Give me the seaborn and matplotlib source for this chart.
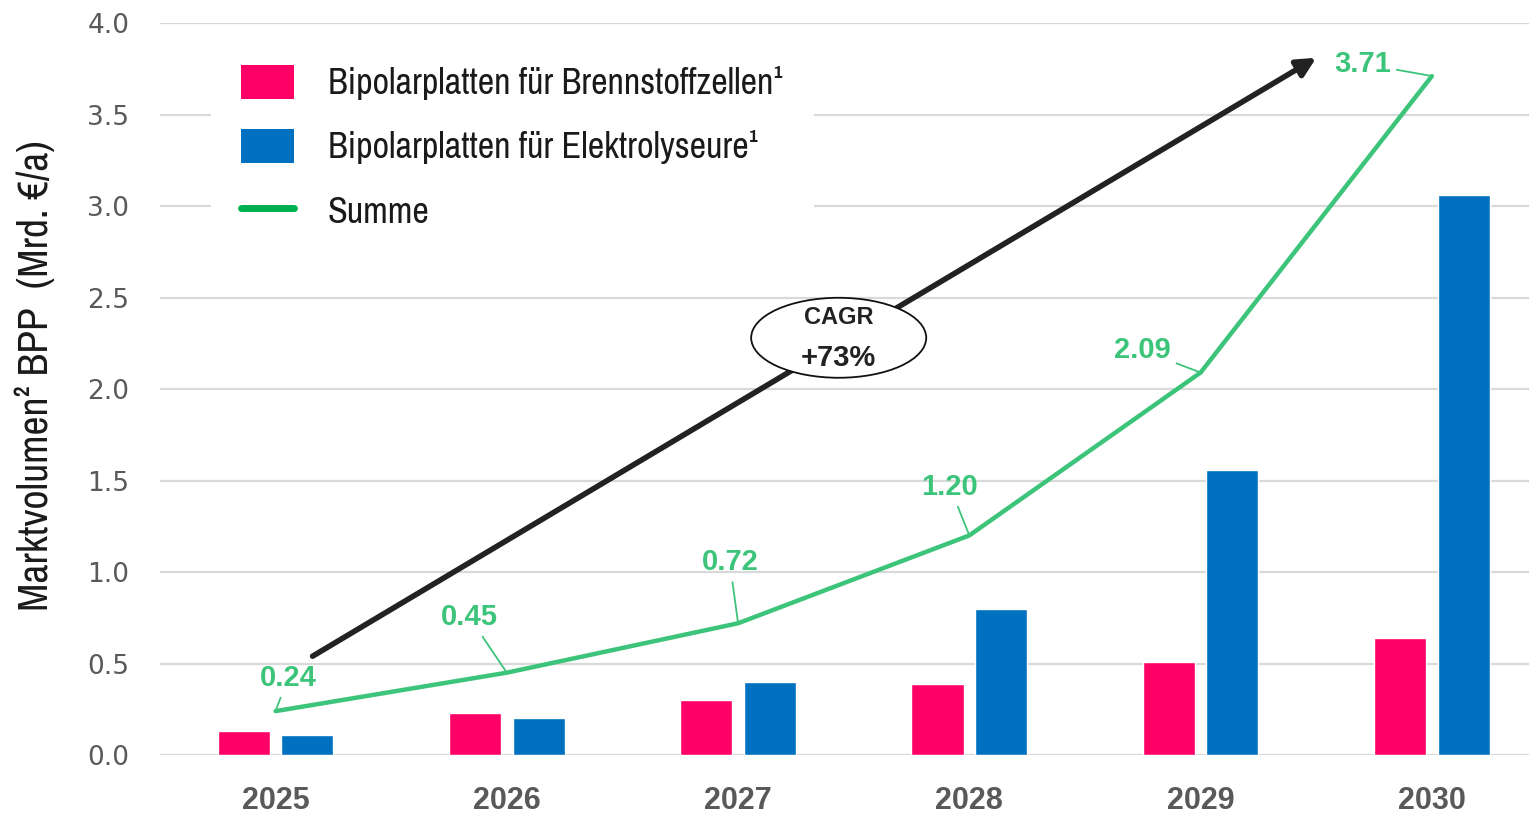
import numpy as np
import pandas as pd
import matplotlib
matplotlib.use('Agg')
import matplotlib.pyplot as plt
import seaborn as sns
from matplotlib.patches import Patch, Ellipse
from matplotlib.lines import Line2D

# Daten
jahre = ['2025', '2026', '2027', '2028', '2029', '2030']
brennstoffzellen = [0.13, 0.23, 0.30, 0.39, 0.51, 0.64]
elektrolyseure = [0.11, 0.20, 0.40, 0.80, 1.56, 3.06]
summe = [0.24, 0.45, 0.72, 1.20, 2.09, 3.71]
summe_labels = ['0.24', '0.45', '0.72', '1.20', '2.09', '3.71']

serie_bz = 'Bipolarplatten für Brennstoffzellen¹'
serie_el = 'Bipolarplatten für Elektrolyseure¹'

df = pd.DataFrame({
    'Jahr': jahre * 2,
    'Wert': brennstoffzellen + elektrolyseure,
    'Serie': [serie_bz] * len(jahre) + [serie_el] * len(jahre),
})
df_summe = pd.DataFrame({'Jahr': jahre, 'Summe': summe})

pink = '#FF0066'
blau = '#0070C0'
gruen = '#3CC47A'
grau = '#595959'
narrow = ['Archivo Narrow', 'Liberation Sans', 'DejaVu Sans']

sns.set_style('white')

fig = plt.figure(figsize=(15.29, 8.13), dpi=100)
ax = fig.add_axes([0.1046, 0.0713, 0.8954, 0.9004])

sns.barplot(data=df, x='Jahr', y='Wert', hue='Serie', palette=[pink, blau],
            width=0.55, gap=0.18, saturation=1, legend=False, ax=ax, zorder=2)
sns.lineplot(data=df_summe, x='Jahr', y='Summe', color=gruen, linewidth=3.2,
             ax=ax, zorder=4)

ax.set_ylim(0, 4.0)
ax.set_xlim(-0.5, 5.42)
ax.set_yticks(np.arange(0, 4.01, 0.5))
ax.set_yticklabels([f'{v:.1f}' for v in np.arange(0, 4.01, 0.5)],
                   fontsize=19, color=grau, family='DejaVu Sans')
for lbl in ax.get_xticklabels():
    lbl.set_fontsize(22)
    lbl.set_fontweight('bold')
    lbl.set_color(grau)
    lbl.set_family('Liberation Sans')
ax.tick_params(axis='y', length=0, pad=22)
ax.tick_params(axis='x', length=0, pad=22)
ax.yaxis.grid(True, color='#D9D9D9', linewidth=1.6, zorder=0)
ax.set_axisbelow(True)
for s in ax.spines.values():
    s.set_visible(False)
ax.set_xlabel('')
ax.set_ylabel('Marktvolumen² BPP  (Mrd. €/a)', fontsize=30, family=narrow,
              color='#1a1a1a')
ax.yaxis.set_label_coords(-0.0767, 0.518)

# Wertebeschriftungen der Summe
offsets = [(9, 24), (-27, 40), (-6, 44), (-14, 35), (-42, 16), (-50, 9)]
for i, (val, txt) in enumerate(zip(summe, summe_labels)):
    ax.annotate(txt, xy=(i, val), xytext=offsets[i], textcoords='offset points',
                ha='center', va='center', fontsize=21, fontweight='bold',
                color=gruen, family='Liberation Sans', zorder=6,
                annotation_clip=False,
                arrowprops=dict(arrowstyle='-', color=gruen, lw=1.3,
                                shrinkA=2, shrinkB=0))

# CAGR-Pfeil
ax.annotate('', xy=(4.50, 3.81), xytext=(0.16, 0.54),
            arrowprops=dict(arrowstyle='-|>', color='#222222', lw=4,
                            mutation_scale=28, shrinkA=0, shrinkB=0),
            annotation_clip=False, zorder=3)
ax.add_patch(Ellipse((2.435, 2.28), 0.757, 0.437, facecolor='white',
                     edgecolor='#111111', linewidth=1.3, zorder=5))
ax.text(2.435, 2.39, 'CAGR', ha='center', va='center', fontsize=17,
        fontweight='bold', family='Liberation Sans', color='#222222', zorder=6)
ax.text(2.435, 2.17, '+73%', ha='center', va='center', fontsize=21,
        fontweight='bold', family='Liberation Sans', color='#222222', zorder=6)

# Legende
handles = [Patch(facecolor=pink, edgecolor='none'),
           Patch(facecolor=blau, edgecolor='none'),
           Line2D([0], [0], color='#00B050', linewidth=5, solid_capstyle='round')]
leg = ax.legend(handles, [serie_bz, serie_el, 'Summe'], loc='upper left',
                bbox_to_anchor=(0.037, 0.985), frameon=True, facecolor='white',
                edgecolor='none', framealpha=1, fancybox=False,
                prop={'family': narrow, 'size': 26},
                handlelength=1.47, handleheight=1.08, handletextpad=0.92,
                labelspacing=0.8, borderpad=0.85, borderaxespad=0.0)
leg.set_zorder(7)
for t in leg.get_texts():
    t.set_color('#1a1a1a')

fig.savefig('out.png', dpi=100)
